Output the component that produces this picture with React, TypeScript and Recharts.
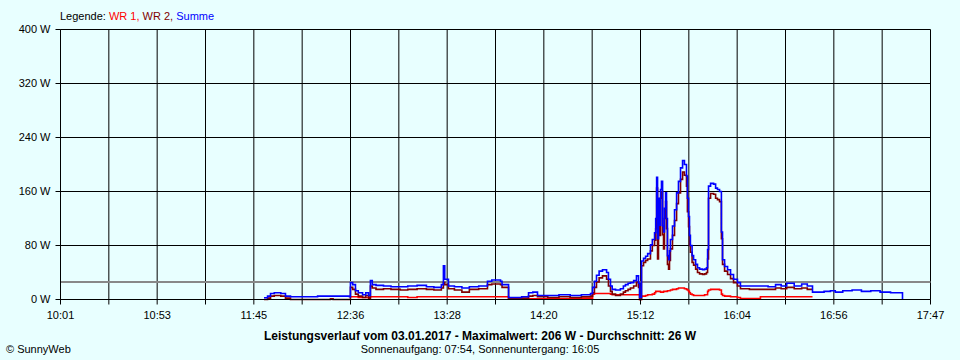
import React from 'react';
import { LineChart, Line, XAxis, YAxis, CartesianGrid, ReferenceLine } from 'recharts';

// time of day in minutes since midnight
const minutes = [
  710.0, 711.9, 713.5, 715.5, 719.0, 721.5, 724.2, 738.7, 745.6, 747.0,
  755.8, 756.3, 757.5, 759.0, 760.5, 762.8, 764.5, 766.0, 767.0, 768.0,
  770.0, 774.0, 778.0, 783.0, 787.0, 792.0, 797.0, 801.0, 805.0, 806.1,
  806.8, 808.8, 812.0, 816.0, 820.0, 825.0, 829.7, 832.0, 836.7, 837.5,
  841.0, 843.0, 848.0, 851.7, 854.0, 856.5, 862.0, 868.0, 874.0, 880.0,
  884.9, 886.0, 887.0, 888.1, 889.5, 891.3, 893.5, 894.5, 895.6, 896.5,
  898.3, 900.9, 902.5, 903.6, 905.0, 906.3, 908.0, 909.5, 910.6, 911.2,
  912.2, 913.3, 914.4, 915.5, 917.0, 918.0, 919.2, 919.8, 920.3, 920.8,
  921.3, 921.9, 922.4, 922.9, 923.5, 924.0, 924.5, 925.1, 925.6, 926.1,
  926.7, 927.2, 927.7, 928.8, 929.9, 931.0, 932.0, 933.1, 934.2, 935.2,
  936.3, 936.8, 937.4, 937.9, 938.4, 939.3, 940.1, 941.2, 942.2, 943.3,
  944.9, 946.0, 947.0, 947.6, 948.1, 949.2, 950.8, 951.9, 952.9, 954.0,
  955.0, 955.6, 956.7, 958.3, 959.9, 961.5, 963.6, 965.2, 970.0, 975.9,
  980.0, 984.0, 987.0, 990.0, 994.0, 998.0, 1001.0, 1003.8, 1010.0, 1013.4,
  1016.0, 1020.0, 1025.0, 1030.0, 1035.0, 1040.0, 1045.6, 1052.0,
];

const N = null;

const wr1 = [
  N, N, N, N, N, N, N, N, N, N,
  N, 4, 4, 4, 3, 3, 3, 3, 4, 4,
  4, 4, 4, 4, 3, 4, 4, 4, 4, 4,
  4, 4, 4, 4, 4, 4, 4, 4, 4, 4,
  1, 1, 1, 1, 1, 1, 1, 1, 2, 2,
  2, 8, 9, 9, 9, 9, 9, 9, 8, 7,
  7, 7, 7, 7, 7, 7, 7, 7, 7, 0,
  5, 5, 6, 7, 7, 8, 10, 12, 12, 12,
  12, 12, 11, 11, 11, 12, 12, 12, 12, 13,
  13, 13, 14, 15, 15, 16, 17, 17, 17, 16,
  15, 14, 12, 10, 8, 7, 6, 6, 6, 6,
  6, 7, 7, 12, 14, 15, 15, 15, 15, 14,
  8, 6, 5, 5, 4, 4, 3, 1.5, 1.5, 4,
  4, 4, 4, 4, 4, 4, 4, 4, N, N,
  N, N, N, N, N, N, N, N,
];

const wr2 = [
  0, 2, 5, 6, 5, 2, 0, 0, 1, 0,
  0, 18, 15, 8, 5, 3, 6, 2, 20, 17,
  15, 16, 15, 14, 15, 16, 15, 14, 17, 25,
  22, 16, 14, 11, 15, 16, 22, 23, 22, 18,
  1, 2, 2, 5, 6, 4, 3, 4, 3, 4,
  5, 10, 18, 26, 32, 35, 30, 20, 12, 8,
  6, 8, 11, 13, 15, 17, 20, 26, 18, 0,
  50, 55, 58, 60, 72, 80, 88, 105, 165, 60,
  135, 95, 150, 160, 96, 75, 120, 145, 105, 52,
  45, 58, 75, 95, 117, 142, 158, 178, 189, 184,
  168, 130, 108, 80, 70, 55, 51, 45, 40, 38,
  37, 38, 40, 60, 150, 157, 156, 150, 148, 145,
  90, 52, 42, 37, 31, 25, 20, 16, 15, 15,
  15, 17, 16, 18, 16, 17, 15, 15, N, N,
  N, N, N, N, N, N, N, N,
];

const summe = [
  2.5, 5, 9, 10, 9, 5, 4, 5, 5, 5,
  4, 25, 22, 13, 10, 7, 10, 6, 28, 22,
  21, 20, 19, 19, 20, 21, 19, 18, 22, 50,
  30, 20, 19, 17, 19, 20, 27, 29, 27, 22,
  3, 3, 4, 10, 11, 6, 6, 7, 6, 7,
  9, 18, 27, 36, 42, 44, 40, 30, 20, 15,
  14, 16, 20, 22, 24, 25, 28, 35, 24, 3,
  57, 61, 64, 68, 81, 89, 99, 120, 181, 90,
  150, 110, 163, 175, 109, 100, 135, 158, 120, 65,
  59, 72, 89, 109, 133, 158, 175, 195, 206, 200,
  183, 150, 123, 95, 80, 65, 59, 52, 47, 45,
  44, 45, 47, 74, 168, 172, 171, 165, 163, 160,
  100, 59, 49, 44, 37, 30, 25, 20, 20, 20,
  19, 22, 20, 24, 20, 23, 20, 11, 12, 13,
  11, 13, 14, 12, 13, 11, 10, 0,
];

const xLabels = ['10:01', '10:53', '11:45', '12:36', '13:28', '14:20', '15:12', '16:04', '16:56', '17:47'];
const yTicks = [0, 80, 160, 240, 320, 400];
const average = 26;

const startMin = 601;
const endMin = 1067;
const xTicks = Array.from({ length: 19 }, (_, i) => startMin + (i * (endMin - startMin)) / 18);

const data = minutes.map((t, i) => ({ t, wr1: wr1[i], wr2: wr2[i], summe: summe[i] }));

const font = "'Liberation Sans', Arial, sans-serif";
const bg = '#E8FFFF';

export default function App() {
  return (
    <div style={{ position: 'absolute', left: 0, top: 0, width: 960, height: 360, background: bg, fontFamily: font, fontSize: 11, color: '#000' }}>
      {/* half-pixel margins keep the black grid lines crisp */}
      <LineChart width={960} height={360} data={data} margin={{ top: 29.5, right: 29.5, left: 0.5, bottom: 0.5 }}>
        <CartesianGrid stroke="#000" />
        <XAxis
          dataKey="t"
          type="number"
          domain={[startMin, endMin]}
          ticks={xTicks}
          interval={0}
          height={60}
          tickSize={5}
          tickMargin={7}
          stroke="#000"
          tick={{ fill: '#000', fontSize: 11, fontFamily: font }}
          tickFormatter={(v: number, i: number) => (i % 2 === 0 ? xLabels[i / 2] : '')}
        />
        <YAxis
          type="number"
          domain={[0, 400]}
          ticks={yTicks}
          width={60}
          tickSize={5}
          tickMargin={5}
          stroke="#000"
          tick={{ fill: '#000', fontSize: 11, fontFamily: font }}
          tickFormatter={(v: number) => `${v} W`}
        />
        <ReferenceLine y={average} stroke="#888" strokeWidth={2} />
        <Line dataKey="wr1" type="stepAfter" stroke="#FF0000" strokeWidth={1.6} dot={false} isAnimationActive={false} />
        <Line dataKey="wr2" type="stepAfter" stroke="#800000" strokeWidth={1.6} dot={false} isAnimationActive={false} />
        <Line dataKey="summe" type="stepAfter" stroke="#0000FF" strokeWidth={1.6} dot={false} isAnimationActive={false} />
      </LineChart>
      <div style={{ position: 'absolute', left: 60, top: 10, lineHeight: '13px', whiteSpace: 'nowrap' }}>
        Legende: <span style={{ color: '#FF0000' }}>WR 1,</span> <span style={{ color: '#800000' }}>WR 2,</span>{' '}
        <span style={{ color: '#0000FF' }}>Summe</span>
      </div>
      <div style={{ position: 'absolute', left: 0, width: 960, top: 329, textAlign: 'center', fontWeight: 'bold', fontSize: 12, lineHeight: '14px', whiteSpace: 'nowrap' }}>
        Leistungsverlauf vom 03.01.2017 - Maximalwert: 206 W - Durchschnitt: 26 W
      </div>
      <div style={{ position: 'absolute', left: 0, width: 960, top: 343, textAlign: 'center', lineHeight: '13px', whiteSpace: 'nowrap' }}>
        Sonnenaufgang: 07:54, Sonnenuntergang: 16:05
      </div>
      <div style={{ position: 'absolute', left: 6, top: 343, lineHeight: '13px', whiteSpace: 'nowrap' }}>
        © SunnyWeb
      </div>
    </div>
  );
}
